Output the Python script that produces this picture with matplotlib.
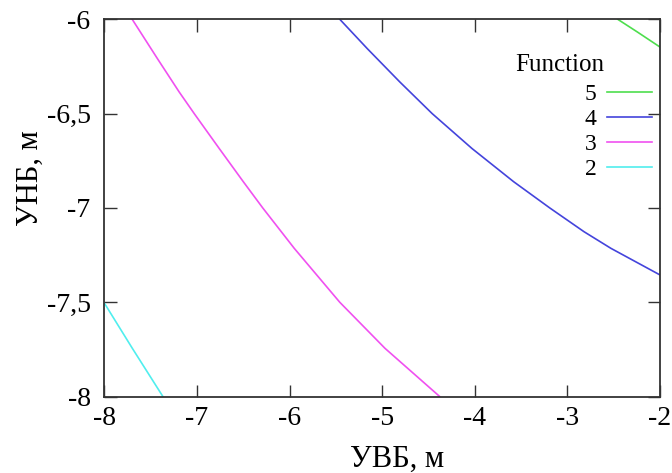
import numpy as np
from matplotlib import pyplot as plt

# Contour levels (УВБ on x, УНБ on y)
levels = ["5", "4", "3", "2"]

level5_x = [-2.456, -2.242, -2.0]
level5_y = [-6.0, -6.068, -6.147]

level4_x = [-5.458, -5.16, -4.81, -4.46, -4.03, -3.58, -3.19, -2.82, -2.53, -2.0]
level4_y = [-6.0, -6.156, -6.332, -6.5, -6.685, -6.861, -7.0, -7.126, -7.214, -7.355]

level3_x = [-7.70, -7.427, -7.193, -7.03, -6.76, -6.50, -6.29, -5.95, -5.458, -4.97, -4.378]
level3_y = [-6.0, -6.209, -6.385, -6.5, -6.685, -6.861, -7.0, -7.214, -7.5, -7.744, -8.0]

level2_x = [-8.0, -7.70, -7.368]
level2_y = [-7.505, -7.743, -8.0]

xticks = [-8, -7, -6, -5, -4, -3, -2]
yticks = [-6, -6.5, -7, -7.5, -8]
ytick_labels = ["-6", "-6,5", "-7", "-7,5", "-8"]

colors = {"5": "#4ede4e", "4": "#4444dc", "3": "#f050f0", "2": "#50eeee"}

plt.rcParams['font.family'] = ['Liberation Serif', 'DejaVu Serif']

fig = plt.figure(figsize=(6.72, 4.73), dpi=100)
ax = fig.add_axes([0.1554, 0.1615, 0.8267, 0.7977])

curves = {"5": (level5_x, level5_y), "4": (level4_x, level4_y),
          "3": (level3_x, level3_y), "2": (level2_x, level2_y)}
for lev in levels:
    xs, ys = curves[lev]
    ax.plot(xs, ys, color=colors[lev], linewidth=1.2, label=lev,
            solid_joinstyle='round')

ax.set_xlim(-8, -2)
ax.set_ylim(-8, -6)
ax.set_xticks(xticks)
ax.set_xticklabels([str(t) for t in xticks])
ax.set_yticks(yticks)
ax.set_yticklabels(ytick_labels)
ax.tick_params(direction='in', length=9, width=1.0, color='#333333',
               top=True, right=True, labelsize=20, pad=7)
ax.tick_params(axis='y', pad=10)
for s in ax.spines.values():
    s.set_linewidth(1.3)
    s.set_color('#333333')

ax.set_xlabel('УВБ, м', fontsize=22)
ax.set_ylabel('УНБ, м', fontsize=22)
ax.xaxis.set_label_coords(0.527, -0.128)
ax.yaxis.set_label_coords(-0.107, 0.579)

ax.text(0.82, 0.88, 'Function', transform=ax.transAxes, fontsize=18,
        va='center', ha='center')
leg = ax.legend(loc='upper right', bbox_to_anchor=(1.0, 0.85), frameon=False,
                markerfirst=False, fontsize=17, handlelength=1.9,
                handletextpad=0.45, labelspacing=0.15, borderaxespad=0.0,
                borderpad=0.33)

plt.savefig("out.png", dpi=100)
